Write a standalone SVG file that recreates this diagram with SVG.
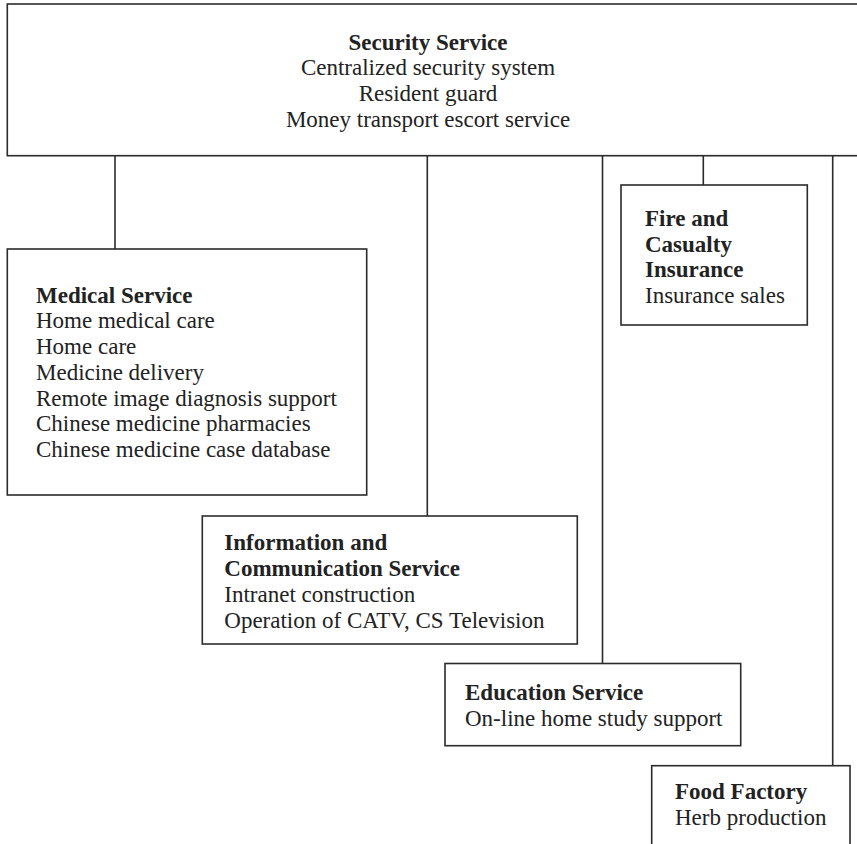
<svg xmlns="http://www.w3.org/2000/svg" width="857" height="844" viewBox="0 0 857 844">
<style>
.box{fill:#fff;stroke:#2b2b2b;stroke-width:1.6}
.ln{stroke:#2b2b2b;stroke-width:1.6;fill:none}
text{font-family:"Liberation Serif","Times New Roman",serif;font-size:23px;fill:#222}
.b{font-weight:bold}
.c{text-anchor:middle}
</style>
<rect width="857" height="844" fill="#fff"/>
<g id="connectors">
<line class="ln" x1="115" y1="156" x2="115" y2="249"/>
<line class="ln" x1="427.3" y1="156" x2="427.3" y2="516"/>
<line class="ln" x1="602.5" y1="156" x2="602.5" y2="663.5"/>
<line class="ln" x1="703.3" y1="156" x2="703.3" y2="185"/>
<line class="ln" x1="832.7" y1="156" x2="832.7" y2="765.7"/>
</g>
<g id="security">
<rect class="box" x="7.3" y="4" width="860" height="151.7"/>
<text class="c b" x="428" y="49.5">Security Service</text>
<text class="c" x="428" y="75.2">Centralized security system</text>
<text class="c" x="428" y="100.9">Resident guard</text>
<text class="c" x="428" y="126.6">Money transport escort service</text>
</g>
<g id="medical">
<rect class="box" x="7.3" y="249" width="359.4" height="246"/>
<text class="b" x="36" y="302.7">Medical Service</text>
<text x="36" y="328.4">Home medical care</text>
<text x="36" y="354.1">Home care</text>
<text x="36" y="379.8">Medicine delivery</text>
<text x="36" y="405.5">Remote image diagnosis support</text>
<text x="36" y="431.2">Chinese medicine pharmacies</text>
<text x="36" y="456.9">Chinese medicine case database</text>
</g>
<g id="fire">
<rect class="box" x="621" y="185" width="186.3" height="140"/>
<text class="b" x="645" y="226">Fire and</text>
<text class="b" x="645" y="251.7">Casualty</text>
<text class="b" x="645" y="277">Insurance</text>
<text x="645" y="302.7">Insurance sales</text>
</g>
<g id="information">
<rect class="box" x="202.3" y="516" width="375" height="128"/>
<text class="b" x="224.3" y="550">Information and</text>
<text class="b" x="224.3" y="576">Communication Service</text>
<text x="224.3" y="601.7">Intranet construction</text>
<text x="224.3" y="627.7">Operation of CATV, CS Television</text>
</g>
<g id="education">
<rect class="box" x="445" y="663.5" width="295.7" height="82.2"/>
<text class="b" x="465" y="700">Education Service</text>
<text x="465" y="726">On-line home study support</text>
</g>
<g id="food">
<rect class="box" x="651.7" y="765.7" width="198.3" height="100"/>
<text class="b" x="675" y="799">Food Factory</text>
<text x="675" y="825">Herb production</text>
</g>
</svg>
